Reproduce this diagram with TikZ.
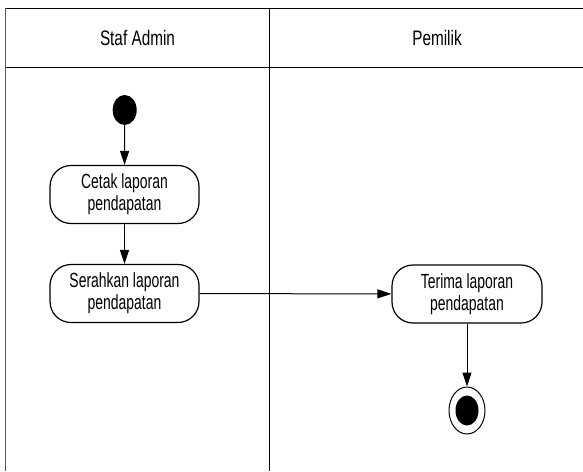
\documentclass[tikz,border=0pt]{standalone}
\usepackage{fontspec}
\setmainfont{Liberation Sans}
\newfontfamily\hdrfont{Liberation Sans}[FakeStretch=0.73]
\newfontfamily\actfont{Liberation Sans}[FakeStretch=0.68]
\usetikzlibrary{arrows.meta,shapes.geometric}
\begin{document}
\begin{tikzpicture}[x=1pt,y=-1pt,
  lane/.style={line width=1pt},
  act/.style={draw,line width=1.2pt,rounded corners=21pt,minimum width=149pt,minimum height=58pt,
    align=center,inner sep=0pt,font=\actfont\fontsize{20.5}{22}\selectfont},
  hdr/.style={font=\hdrfont\fontsize{21}{24}\selectfont,inner sep=0pt},
  startnode/.style={ellipse,fill=black,minimum width=24pt,minimum height=30pt,inner sep=0pt},
  endouter/.style={ellipse,draw,line width=1pt,minimum width=36pt,minimum height=47pt,inner sep=0pt},
  flow/.style={line width=1pt,-{Triangle[length=14pt,width=9pt]}}]
\useasboundingbox (0,0) rectangle (583,471);
% swimlane frame
\draw[lane,gray!70!black,line width=1.6pt] (5.5,471) -- (5.5,8);
\draw[lane] (5.5,8) -- (600,8);
\draw[lane] (5.5,67) -- (600,67);
\draw[lane] (269,8) -- (269,471);
\node[hdr] (h1) at (137.5,37.5) {Staf Admin};
\node[hdr] (h2) at (437,37.5) {Pemilik};
% nodes
\node[startnode] (start) at (124.7,110) {};
\node[act] (cetak) at (124.5,194.5) {Cetak laporan\\pendapatan};
\node[act] (serah) at (124.5,293.5) {Serahkan laporan\\pendapatan};
\node[act,minimum width=150pt] (terima) at (467,294) {Terima laporan\\pendapatan};
\node[endouter] (final) at (467,410.5) {};
\node[startnode,minimum width=23pt] (finalin) at (467,410.5) {};
% flows
\draw[flow] (start) -- (cetak);
\draw[flow] (cetak) -- (serah);
\draw[flow] (serah) -- (terima);
\draw[flow] (terima) -- (final);
\end{tikzpicture}
\end{document}
